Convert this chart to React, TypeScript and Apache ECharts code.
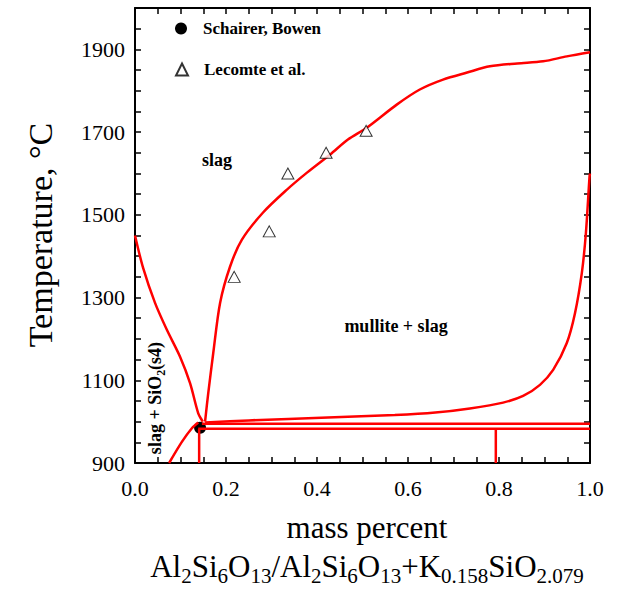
import React, { useEffect, useRef } from 'react';
import * as echarts from 'echarts';

// ---- data (mass fraction, temperature °C) ----
const SIO2_LIQ_X = [0, 0.018, 0.044, 0.07, 0.099, 0.121, 0.139, 0.149];
const SIO2_LIQ_T = [1450, 1371, 1287, 1222, 1157, 1093, 1020, 1000];

const MULLITE_LIQ_X = [0.154, 0.161, 0.172, 0.187, 0.209, 0.235, 0.281, 0.334, 0.378, 0.429, 0.468, 0.51, 0.576, 0.626, 0.677, 0.73, 0.78, 0.84, 0.897, 0.949, 1.0];
const MULLITE_LIQ_T = [1000, 1069, 1166, 1287, 1375, 1440, 1505, 1561, 1602, 1646, 1682, 1711, 1767, 1803, 1827, 1844, 1859, 1866, 1871, 1883, 1893];

const RIGHT_LIQ_X = [0.154, 0.25, 0.424, 0.571, 0.66, 0.736, 0.809, 0.853, 0.89, 0.919, 0.949, 0.967, 0.982, 0.991, 0.999, 1.0];
const RIGHT_LIQ_T = [998, 1003, 1010, 1016, 1022, 1032, 1046, 1062, 1089, 1125, 1190, 1262, 1359, 1456, 1593, 1600];

const LOWER_LEFT_X = [0.075, 0.103, 0.125, 0.139];
const LOWER_LEFT_T = [900, 951, 984, 998];

const UPPER_ISO_X = [0.147, 1.0];
const UPPER_ISO_T = [995, 995];
const LOWER_ISO_X = [0.139, 1.0];
const LOWER_ISO_T = [983, 983];
const LEFT_VERT_X = [0.141, 0.141];
const LEFT_VERT_T = [983, 900];
const RIGHT_VERT_X = [0.793, 0.793];
const RIGHT_VERT_T = [983, 900];

const SCHAIRER_X = [0.143];
const SCHAIRER_T = [985];
const LECOMTE_X = [0.218, 0.295, 0.336, 0.42, 0.508];
const LECOMTE_T = [1350, 1460, 1600, 1650, 1703];

// tick labels
const X_TICK_LABELS = [0, 0.2, 0.4, 0.6, 0.8, 1.0];
const Y_TICK_LABELS = [900, 1100, 1300, 1500, 1700, 1900];

const X_MIN = 0, X_MAX = 1, X_STEP = 0.05;
const Y_MIN = 900, Y_MAX = 2000, Y_STEP = 50;

const FONT = 'Liberation Serif, Times New Roman, serif';
const RED = '#ff0000';

const zip = (xs: number[], ys: number[]) => xs.map((x, i) => [x, ys[i]]);

function lineSeries(xs: number[], ys: number[], smooth: number | boolean) {
  return {
    type: 'line',
    data: zip(xs, ys),
    showSymbol: false,
    symbol: 'none',
    smooth,
    z: 3,
    lineStyle: { color: RED, width: 2.5 },
    silent: true,
  };
}

const axisCommon = {
  axisLine: { show: true, onZero: false, lineStyle: { color: '#000', width: 2 } },
  axisTick: { show: true, inside: true, length: 6, lineStyle: { color: '#000', width: 1.5 } },
  axisLabel: { show: false },
  splitLine: { show: false },
};

const bold = (size: number) => ({ fontFamily: FONT, fontSize: size, fontWeight: 'bold', fill: '#000' });
const plain = (size: number) => ({ fontFamily: FONT, fontSize: size, fontWeight: 'normal', fill: '#000' });

const staticGraphics: any[] = [
  {
    type: 'text', x: 217, y: 160,
    style: { text: 'slag', ...bold(18), align: 'center', verticalAlign: 'middle' },
  },
  {
    type: 'text', x: 396, y: 326,
    style: { text: 'mullite + slag', ...bold(18), align: 'center', verticalAlign: 'middle' },
  },
  {
    type: 'text', x: 155, y: 398, rotation: Math.PI / 2,
    style: {
      text: '{m|slag + SiO}{s|2}{m|(s4)}',
      ...bold(18), align: 'center', verticalAlign: 'middle',
      rich: {
        m: { ...bold(18), lineHeight: 24 },
        s: { ...bold(12), lineHeight: 12, verticalAlign: 'bottom' },
      },
    },
  },
  {
    type: 'text', x: 40, y: 235, rotation: Math.PI / 2,
    style: { text: 'Temperature, °C', ...plain(34), align: 'center', verticalAlign: 'middle' },
  },
  {
    type: 'text', x: 367, y: 527,
    style: { text: 'mass percent', ...plain(31), align: 'center', verticalAlign: 'middle' },
  },
  {
    type: 'text', x: 367, y: 566,
    style: {
      text: '{m|Al}{s|2}{m|Si}{s|6}{m|O}{s|13}{m|/Al}{s|2}{m|Si}{s|6}{m|O}{s|13}{m|+K}{s|0.158}{m|SiO}{s|2.079}',
      ...plain(31), align: 'center', verticalAlign: 'middle',
      rich: {
        m: { ...plain(31), lineHeight: 40 },
        s: { ...plain(21), lineHeight: 21, verticalAlign: 'bottom' },
      },
    },
  },
];

export default function App() {
  const ref = useRef<HTMLDivElement>(null);
  useEffect(() => {
    document.body.style.margin = '0';
    const chart = echarts.init(ref.current!, null, { renderer: 'svg' });
    const option: any = {
      animation: false,
      backgroundColor: '#fff',
      grid: { left: 135, right: 29, top: 8, bottom: 126 },
      xAxis: [
        { type: 'value', min: X_MIN, max: X_MAX, interval: X_STEP, position: 'bottom', ...axisCommon },
        { type: 'value', min: X_MIN, max: X_MAX, interval: X_STEP, position: 'top', ...axisCommon },
      ],
      yAxis: [
        { type: 'value', min: Y_MIN, max: Y_MAX, interval: Y_STEP, position: 'left', ...axisCommon },
        { type: 'value', min: Y_MIN, max: Y_MAX, interval: Y_STEP, position: 'right', ...axisCommon },
      ],
      legend: [
        {
          data: ['Schairer, Bowen'], orient: 'vertical', left: 170, top: 15,
          itemWidth: 12, itemHeight: 12, selectedMode: false,
          textStyle: { fontFamily: FONT, fontSize: 17, fontWeight: 'bold', color: '#000', padding: [0, 0, 0, 11] },
        },
        {
          data: ['Lecomte et al.'], orient: 'vertical', left: 170, top: 56,
          itemWidth: 12, itemHeight: 12, selectedMode: false,
          textStyle: { fontFamily: FONT, fontSize: 17, fontWeight: 'bold', color: '#000', padding: [0, 0, 0, 11] },
        },
      ],
      series: [
        lineSeries(SIO2_LIQ_X, SIO2_LIQ_T, 0.3),
        lineSeries(MULLITE_LIQ_X, MULLITE_LIQ_T, 0.3),
        lineSeries(RIGHT_LIQ_X, RIGHT_LIQ_T, 0.3),
        lineSeries(LOWER_LEFT_X, LOWER_LEFT_T, 0.3),
        lineSeries(UPPER_ISO_X, UPPER_ISO_T, false),
        lineSeries(LOWER_ISO_X, LOWER_ISO_T, false),
        lineSeries(LEFT_VERT_X, LEFT_VERT_T, false),
        lineSeries(RIGHT_VERT_X, RIGHT_VERT_T, false),
        {
          name: 'Schairer, Bowen', type: 'scatter', data: zip(SCHAIRER_X, SCHAIRER_T),
          symbol: 'circle', symbolSize: 12, z: 2,
          itemStyle: { color: '#000', opacity: 1 },
        },
        {
          name: 'Lecomte et al.', type: 'scatter', data: zip(LECOMTE_X, LECOMTE_T),
          symbol: 'triangle', symbolSize: [12, 11], z: 4,
          itemStyle: { color: '#fff', borderColor: '#000', borderWidth: 1 },
        },
      ],
    };
    chart.setOption(option);

    // tick labels placed through the chart's own axis scales
    const finder = { xAxisIndex: 0, yAxisIndex: 0 };
    const tickGraphics: any[] = [];
    X_TICK_LABELS.forEach((v) => {
      const p = chart.convertToPixel(finder, [v, Y_MIN]) as number[];
      tickGraphics.push({
        type: 'text', x: p[0], y: p[1] + 14,
        style: { text: v.toFixed(1), ...plain(22), align: 'center', verticalAlign: 'top' },
      });
    });
    Y_TICK_LABELS.forEach((v) => {
      const p = chart.convertToPixel(finder, [X_MIN, v]) as number[];
      tickGraphics.push({
        type: 'text', x: p[0] - 10, y: p[1],
        style: { text: String(v), ...plain(22), align: 'right', verticalAlign: 'middle' },
      });
    });
    chart.setOption({ graphic: [...staticGraphics, ...tickGraphics] });
    return () => chart.dispose();
  }, []);
  return <div ref={ref} style={{ width: 619, height: 589 }} />;
}
